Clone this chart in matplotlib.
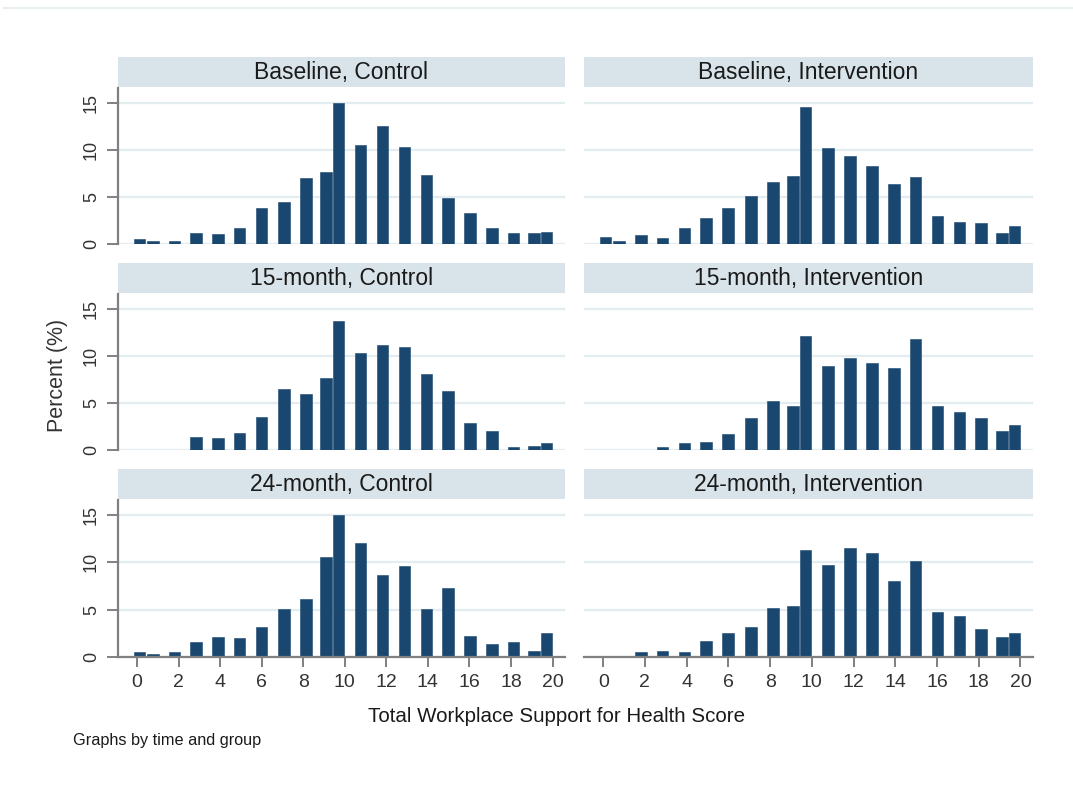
import matplotlib
matplotlib.use("Agg")
import matplotlib.pyplot as plt

plt.rcParams['font.family'] = ['Liberation Sans', 'DejaVu Sans']

# Bar positions (score) as they appear in the picture
scores = [0.11, 0.75, 1.8, 2.84, 3.9, 4.93, 5.99, 7.07, 8.13, 9.1, 9.7,
          10.76, 11.82, 12.87, 13.93, 14.97, 16.03, 17.08, 18.12, 19.12, 19.71]

baseline_control = [0.54, 0.36, 0.36, 1.18, 1.04, 1.69, 3.84, 4.49, 7.07, 7.61, 15.0,
                    10.55, 12.56, 10.3, 7.32, 4.92, 3.30, 1.69, 1.18, 1.18, 1.26]
baseline_intervention = [0.79, 0.36, 1.0, 0.61, 1.69, 2.76, 3.84, 5.13, 6.64, 7.28, 14.53,
                         10.26, 9.33, 8.25, 6.39, 7.18, 2.98, 2.33, 2.22, 1.15, 1.87]
m15_control = [0, 0, 0, 1.42, 1.31, 1.81, 3.55, 6.45, 5.92, 7.66, 13.76,
               10.32, 11.13, 10.92, 8.05, 6.31, 2.84, 2.06, 0.3, 0.45, 0.74]
m15_intervention = [0, 0, 0, 0.3, 0.71, 0.89, 1.67, 3.40, 5.21, 4.72, 12.13,
                    8.97, 9.75, 9.22, 8.69, 11.84, 4.72, 4.08, 3.40, 2.02, 2.70]
m24_control = [0.5, 0.3, 0.5, 1.56, 2.10, 1.96, 3.16, 5.05, 6.11, 10.59, 15.0,
               12.09, 8.71, 9.67, 5.05, 7.29, 2.24, 1.39, 1.56, 0.64, 2.49]
m24_intervention = [0, 0, 0.53, 0.64, 0.53, 1.64, 2.49, 3.13, 5.15, 5.44, 11.27,
                    9.78, 11.52, 11.02, 8.07, 10.1, 4.76, 4.37, 2.92, 2.10, 2.49]

panel_titles = ["Baseline, Control", "Baseline, Intervention",
                "15-month, Control", "15-month, Intervention",
                "24-month, Control", "24-month, Intervention"]
panel_data = [baseline_control, baseline_intervention,
              m15_control, m15_intervention,
              m24_control, m24_intervention]

x_ticks = [0, 2, 4, 6, 8, 10, 12, 14, 16, 18, 20]
y_ticks = [0, 5, 10, 15]

W, H = 1073, 785
fig = plt.figure(figsize=(W / 100, H / 100), dpi=100)
fig.patch.set_facecolor('white')

def fr(x0, y0, x1, y1):
    return [x0 / W, 1 - y1 / H, (x1 - x0) / W, (y1 - y0) / H]

# thin line at the top of the image
fig.add_artist(plt.Line2D([4 / W, 1], [1 - 8 / H, 1 - 8 / H], color='#e8eff0', lw=1.5))

bar_color = '#1a476f'
grid_color = '#e3ecef'
axis_color = '#808080'
strip_color = '#d9e4ea'
text_color = '#1a1a1a'

cols = [(118, 565), (584, 1033)]
rows = [(57, 87, 88, 244), (263, 293, 294, 450), (469, 499, 500, 657)]

for i, (title, vals) in enumerate(zip(panel_titles, panel_data)):
    r, c = divmod(i, 2)
    x0, x1 = cols[c]
    s0, s1, a0, a1 = rows[r]
    # strip
    sax = fig.add_axes(fr(x0, s0, x1, s1))
    sax.set_facecolor(strip_color)
    for sp in sax.spines.values():
        sp.set_visible(False)
    sax.set_xticks([]); sax.set_yticks([])
    sax.text(0.5, 0.47, title, ha='center', va='center', fontsize=16.5,
             color=text_color, transform=sax.transAxes)
    # plot
    ax = fig.add_axes(fr(x0, a0, x1, a1))
    ax.set_xlim(-0.92, 20.6)
    ax.set_ylim(0, 16.6)
    for y in y_ticks:
        ax.axhline(y, color=grid_color, lw=1.6, zorder=0)
    ax.bar(scores, vals, width=0.56, color=bar_color, edgecolor=bar_color,
           linewidth=0.4, zorder=2)
    for sp in ['top', 'right']:
        ax.spines[sp].set_visible(False)
    ax.spines['left'].set_color(axis_color)
    ax.spines['left'].set_linewidth(1.6)
    ax.spines['bottom'].set_color(axis_color)
    ax.spines['bottom'].set_linewidth(1.6)
    if c == 0:
        ax.set_yticks(y_ticks)
        ax.set_yticklabels([str(v) for v in y_ticks], rotation=90, va='center',
                           fontsize=13, color='#333333')
        ax.tick_params(axis='y', length=8, width=1.4, color=axis_color, pad=5)
    else:
        ax.spines['left'].set_visible(False)
        ax.set_yticks([])
    if r == 2:
        ax.set_xticks(x_ticks)
        ax.set_xticklabels([str(v) for v in x_ticks], fontsize=14, color='#333333')
        ax.tick_params(axis='x', length=7, width=1.4, color=axis_color, pad=5)
    else:
        ax.spines['bottom'].set_visible(False)
        ax.set_xticks([])

fig.text(57 / W, 1 - 375 / H, "Percent (%)", rotation=90, ha='center', va='center',
         fontsize=15.5, color='#333333')
fig.text(556 / W, 1 - 716 / H, "Total Workplace Support for Health Score",
         ha='center', va='center', fontsize=14.8, color=text_color)
fig.text(73 / W, 1 - 740 / H, "Graphs by time and group", ha='left', va='center',
         fontsize=11.7, color=text_color)

fig.savefig("out.png", dpi=100, facecolor='white')
